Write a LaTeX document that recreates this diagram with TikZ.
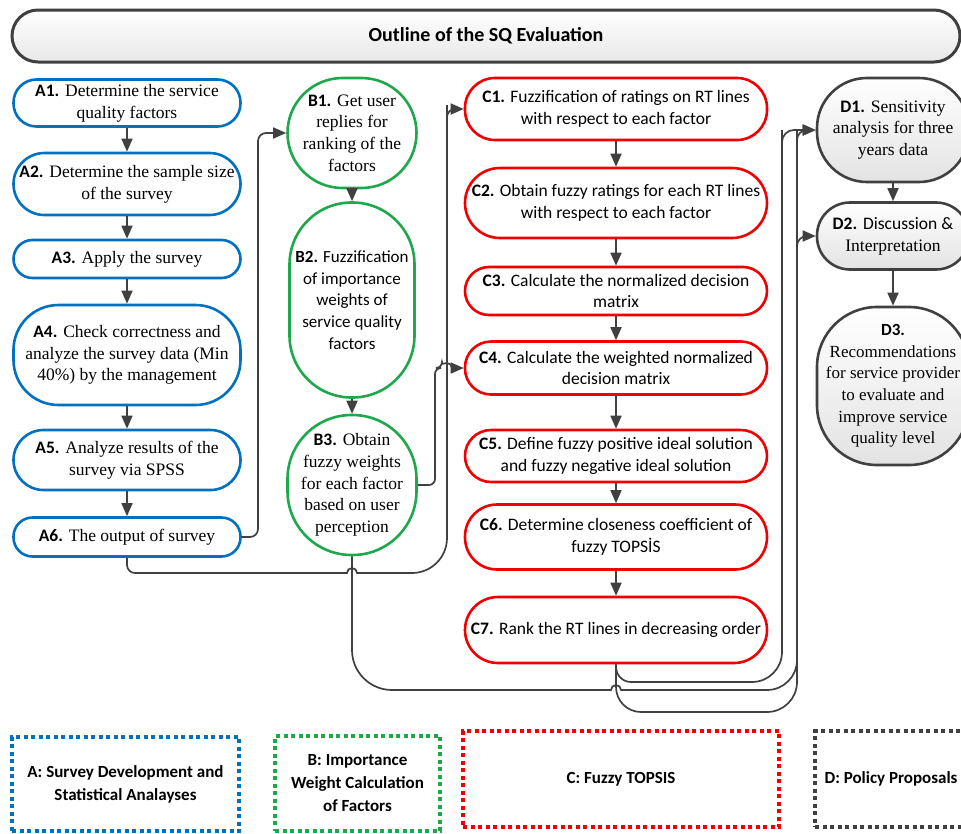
\documentclass[tikz,border=0pt]{standalone}
\usepackage{fontspec}
\setmainfont{Liberation Serif}
\newfontfamily\calib{Carlito}
\usetikzlibrary{arrows.meta}

\definecolor{blueA}{RGB}{0,112,192}
\definecolor{greenB}{RGB}{30,168,75}
\definecolor{redC}{RGB}{240,0,0}
\definecolor{grayD}{RGB}{64,64,64}
\definecolor{lineC}{RGB}{64,64,64}

\newcommand{\blab}[1]{{\calib\bfseries #1}}

\tikzset{
	box/.style={rectangle, align=center, inner sep=0pt, line width=2.6pt, font=\fontsize{17.5}{21.7}\selectfont},
	boxA/.style={box, draw=blueA, fill=white},
	boxB/.style={box, draw=greenB, fill=white},
	boxC/.style={box, draw=redC, fill=white, font=\calib\fontsize{17.5}{21.7}\selectfont},
	boxD/.style={box, draw=grayD, top color=white, bottom color=gray!22},
	sz/.style n args={3}{minimum width=#1, minimum height=#2, rounded corners=#3},
	legend/.style={rectangle, align=center, line width=4pt, dash pattern=on 4pt off 3.5pt, font=\calib\bfseries\fontsize{17}{23}\selectfont},
	arr/.style={draw=lineC, line width=1.7pt, -{Triangle[length=13pt,width=11pt]}}
}

\begin{document}
\begin{tikzpicture}[x=1pt, y=-1pt]
			\useasboundingbox (0,0) rectangle (961,833);
			\node[draw=grayD, line width=3pt, top color=white, bottom color=gray!18, sz={948}{52}{26}, font=\calib\bfseries\fontsize{20}{24}\selectfont] (title) at (486,36) {Outline of the SQ Evaluation};
			% A: survey
			\node[boxA, sz={227}{47}{23}] (A1) at (127,103) {\blab{A1.} Determine the service\\quality factors};
			\node[boxA, sz={227}{62}{31}] (A2) at (127,184) {\blab{A2.} Determine the sample size\\of the survey};
			\node[boxA, sz={227}{38}{19}] (A3) at (127,259) {\blab{A3.} Apply the survey};
			\node[boxA, sz={227}{100}{45}] (A4) at (127,355) {\blab{A4.} Check correctness and\\analyze the survey data (Min\\40\%) by the management};
			\node[boxA, sz={227}{60}{30}] (A5) at (127,460) {\blab{A5.} Analyze results of the\\survey via SPSS};
			\node[boxA, sz={227}{39}{19}] (A6) at (127,537) {\blab{A6.} The output of survey};
			% B: weights
			\node[boxB, sz={129}{110}{55}] (B1) at (352,133) {\blab{B1.} Get user\\replies for\\ranking of the\\factors};
			\node[boxB, sz={125}{195}{62}, font=\calib\fontsize{17}{21.7}\selectfont] (B2) at (352,300) {\textbf{B2.} Fuzzification\\of importance\\weights of\\service quality\\factors};
			\node[boxB, sz={129}{140}{64}] (B3) at (352,485) {\blab{B3.} Obtain\\fuzzy weights\\for each factor\\based on user\\perception};
			% C: fuzzy topsis
			\node[boxC, sz={302}{62}{30}] (C1) at (616,109) {\textbf{C1.} Fuzzification of ratings on RT lines\\with respect to each factor};
			\node[boxC, sz={302}{70}{35}] (C2) at (616,203) {\textbf{C2.} Obtain fuzzy ratings for each RT lines\\with respect to each factor};
			\node[boxC, sz={302}{48}{24}] (C3) at (616,291) {\textbf{C3.} Calculate the normalized decision\\matrix};
			\node[boxC, sz={302}{53}{26}] (C4) at (616,368) {\textbf{C4.} Calculate the weighted normalized\\decision matrix};
			\node[boxC, sz={302}{52}{26}] (C5) at (616,456) {\textbf{C5.} Define fuzzy positive ideal solution\\and fuzzy negative ideal solution};
			\node[boxC, sz={302}{65}{32}] (C6) at (616,537) {\textbf{C6.} Determine closeness coefficient of\\fuzzy TOPS\.{I}S};
			\node[boxC, sz={302}{66}{33}] (C7) at (616,630) {\textbf{C7.} Rank the RT lines in decreasing order};
			% D: policy
			\node[boxD, sz={152}{104}{50}] (D1) at (893,130) {\blab{D1.} Sensitivity\\analysis for three\\years data};
			\node[boxD, sz={152}{67}{33}] (D2) at (893,236) {\blab{D2.} {\calib Discussion \&}\\Interpretation};
			\node[boxD, sz={152}{158}{60}, font=\fontsize{17}{21.7}\selectfont] (D3) at (893,386) {\blab{D3.}\\Recommendations\\for service provider\\to evaluate and\\improve service\\quality level};
			% legend
			\node[legend, draw=blueA, minimum width=227, minimum height=94] (LA) at (125.5,784) {A: Survey Development and\\Statistical Analayses};
			\node[legend, draw=greenB, minimum width=165, minimum height=95] (LB) at (357.5,783.5) {B: Importance\\Weight Calculation\\of Factors};
			\node[legend, draw=redC, minimum width=316, minimum height=96] (LC) at (621,779) {C: Fuzzy TOPSIS};
			\node[legend, draw=grayD, minimum width=152, minimum height=96] (LD) at (891,779) {D: Policy Proposals};
			% chains
			\foreach \i/\j in {A1/A2,A2/A3,A3/A4,A4/A5,A5/A6,B1/B2,B2/B3,C1/C2,C2/C3,C3/C4,C4/C5,C5/C6,C6/C7,D1/D2,D2/D3}
				\draw[arr] (\i) -- (\j);
			% cross links
			\draw[arr, rounded corners=8] (A6.east) -| (258,133) -- (B1.west);
			\draw[arr] (A6.south) [rounded corners=8] -- (127,573) -- (200,573) [sharp corners] -- (347,573) arc[start angle=180, end angle=360, radius=5] -- (400,573) [rounded corners=35] -- (447,573) -- (447,140) [rounded corners=8] -- (447,109) -- (C1.west);
			\draw[arr] (B3.east) [rounded corners=6] -- (435,485) -- (435,368) -- (442,368) [sharp corners] arc[start angle=180, end angle=360, radius=5] -- (C4.west);
			\draw[arr] (B3.south) [rounded corners=40] -- (352,690) -- (500,690) [sharp corners] -- (611,690) arc[start angle=180, end angle=360, radius=5] -- (650,690) [rounded corners=30] -- (797,690) -- (797,160) [rounded corners=10] -- (797,130) -- (D1.west);
			\draw[arr] (C7.south) [rounded corners=15] -- (616,682) -- (700,682) [rounded corners=30] -- (782,682) -- (782,160) [rounded corners=12] -- (782,130) -- (D1.west);
			\draw[arr] (C7.south) [rounded corners=25] -- (616,712) -- (700,712) [rounded corners=30] -- (797,712) -- (797,280) [rounded corners=10] -- (797,236) -- (D2.west);
		\end{tikzpicture}
\end{document}
